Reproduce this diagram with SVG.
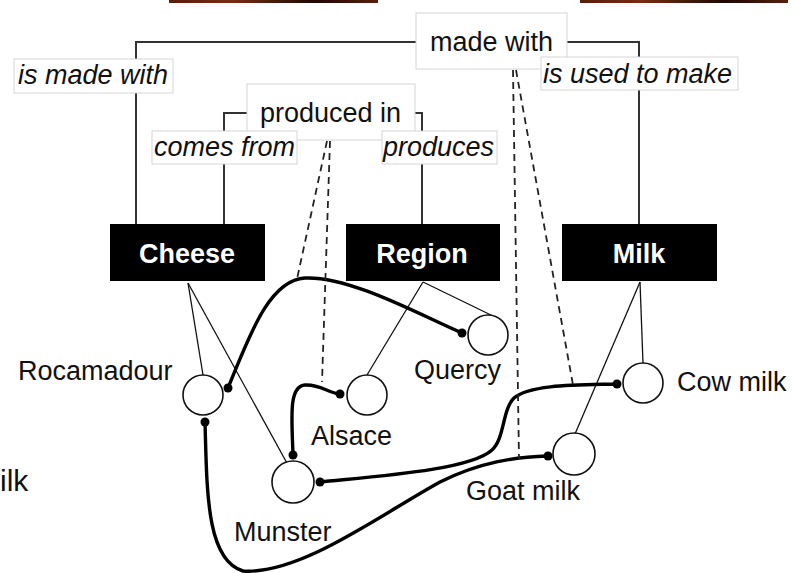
<svg xmlns="http://www.w3.org/2000/svg" width="793" height="573" viewBox="0 0 793 573">
  <defs>
    <linearGradient id="bar" x1="0" y1="0" x2="1" y2="0">
      <stop offset="0" stop-color="#5a1c08"/>
      <stop offset="0.3" stop-color="#7a2c10"/>
      <stop offset="0.7" stop-color="#1e0704"/>
      <stop offset="1" stop-color="#5c1e0c"/>
    </linearGradient>
    <style>
      text { font-family: "Liberation Sans", Arial, Helvetica, sans-serif; font-size: 27px; fill: #111; }
      .cls rect { fill: #000; }
      .cls text { fill: #fff; font-weight: bold; text-anchor: middle; }
      .lbl rect { fill: #fff; stroke: #d6d6d6; stroke-width: 1; }
      .role text { font-style: italic; }
      .inst circle { fill: #fff; stroke: #111; stroke-width: 1.6; }
      .rel { fill: none; stroke: #333; stroke-width: 2; }
      .inst-of { fill: none; stroke: #111; stroke-width: 1.3; }
      .link { fill: none; stroke: #000; stroke-width: 3.4; stroke-linecap: round; }
      .dot { fill: #000; }
      .dash { fill: none; stroke: #222; stroke-width: 1.8; stroke-dasharray: 7 5; }
    </style>
  </defs>

  <rect width="793" height="573" fill="#fff"/>

  <!-- window strips along the top edge -->
  <rect x="169" y="0" width="209" height="3" fill="url(#bar)"/>
  <rect x="580" y="0" width="208" height="3" fill="url(#bar)"/>

  <!-- caption at the left edge -->
  <text x="0" y="491" style="font-size:30px">ilk</text>

  <g id="connectors">
    <!-- relation brackets -->
    <polyline class="rel" points="416,42 136,42 136,224"/>
    <polyline class="rel" points="567,42 639,42 639,224"/>
    <polyline class="rel" points="247,113 224,113 224,224"/>
    <polyline class="rel" points="415,113 422,113 422,224"/>

    <!-- class to instance -->
    <line class="inst-of" x1="188" y1="283" x2="203" y2="375"/>
    <line class="inst-of" x1="188" y1="283" x2="288" y2="465"/>
    <line class="inst-of" x1="423" y1="282" x2="367" y2="375"/>
    <line class="inst-of" x1="423" y1="282" x2="493" y2="316"/>
    <line class="inst-of" x1="640" y1="282" x2="643" y2="363"/>
    <line class="inst-of" x1="640" y1="282" x2="575" y2="434"/>

    <!-- instance links -->
    <path class="link" d="M228,388 C248,340 268,280 305,278 C350,276 420,315 462,333"/>
    <path class="link" d="M293,455 C292,420 288,386 305,385 C320,384 328,393 340,394"/>
    <path class="link" d="M205,422 C207,490 206,560 243,571 C300,575 380,515 440,482 C480,462 515,457 548,456"/>
    <path class="link" d="M320,482 C380,476 470,470 492,450 C505,438 502,410 514,398 C530,384 580,385 617,384"/>

    <circle class="dot" cx="228" cy="388" r="4.5"/>
    <circle class="dot" cx="462" cy="333" r="4.5"/>
    <circle class="dot" cx="293" cy="455" r="4.5"/>
    <circle class="dot" cx="340" cy="394" r="4.5"/>
    <circle class="dot" cx="205" cy="422" r="4.5"/>
    <circle class="dot" cx="548" cy="456" r="4.5"/>
    <circle class="dot" cx="320" cy="482" r="4.5"/>
    <circle class="dot" cx="617" cy="384" r="4.5"/>

    <!-- relation to link -->
    <line class="dash" x1="327" y1="141" x2="297" y2="279"/>
    <line class="dash" x1="330" y1="141" x2="322" y2="382"/>
    <line class="dash" x1="513" y1="70" x2="519" y2="459"/>
    <line class="dash" x1="516" y1="70" x2="573" y2="385"/>
  </g>

  <!-- relation labels -->
  <g id="made-with" class="lbl">
    <rect x="416" y="13" width="151" height="56"/>
    <text x="430" y="51">made with</text>
  </g>
  <g id="is-made-with" class="lbl role">
    <rect x="14" y="59" width="159" height="34"/>
    <text x="18" y="84">is made with</text>
  </g>
  <g id="is-used-to-make" class="lbl role">
    <rect x="541" y="57" width="197" height="33"/>
    <text x="543" y="83">is used to make</text>
  </g>
  <g id="produced-in" class="lbl">
    <rect x="247" y="84" width="168" height="56"/>
    <text x="260" y="122">produced in</text>
  </g>
  <g id="comes-from" class="lbl role">
    <rect x="152" y="131" width="145" height="33"/>
    <text x="154" y="156">comes from</text>
  </g>
  <g id="produces" class="lbl role">
    <rect x="382" y="131" width="115" height="33"/>
    <text x="383" y="156">produces</text>
  </g>

  <!-- classes -->
  <g id="cheese" class="cls">
    <rect x="110" y="224" width="155" height="57"/>
    <text x="187" y="263">Cheese</text>
  </g>
  <g id="region" class="cls">
    <rect x="346" y="224" width="154" height="57"/>
    <text x="422" y="263">Region</text>
  </g>
  <g id="milk" class="cls">
    <rect x="562" y="224" width="155" height="57"/>
    <text x="639" y="263">Milk</text>
  </g>

  <!-- instances -->
  <g id="rocamadour" class="inst">
    <circle cx="203" cy="395" r="20"/>
    <text x="18" y="380">Rocamadour</text>
  </g>
  <g id="alsace" class="inst">
    <circle cx="367" cy="395" r="20"/>
    <text x="311" y="445">Alsace</text>
  </g>
  <g id="quercy" class="inst">
    <circle cx="488" cy="335" r="20"/>
    <text x="414" y="379">Quercy</text>
  </g>
  <g id="munster" class="inst">
    <circle cx="293" cy="482" r="21"/>
    <text x="234" y="541">Munster</text>
  </g>
  <g id="cow-milk" class="inst">
    <circle cx="643" cy="383" r="20"/>
    <text x="677" y="391">Cow milk</text>
  </g>
  <g id="goat-milk" class="inst">
    <circle cx="574" cy="454" r="21"/>
    <text x="466" y="500">Goat milk</text>
  </g>
</svg>
